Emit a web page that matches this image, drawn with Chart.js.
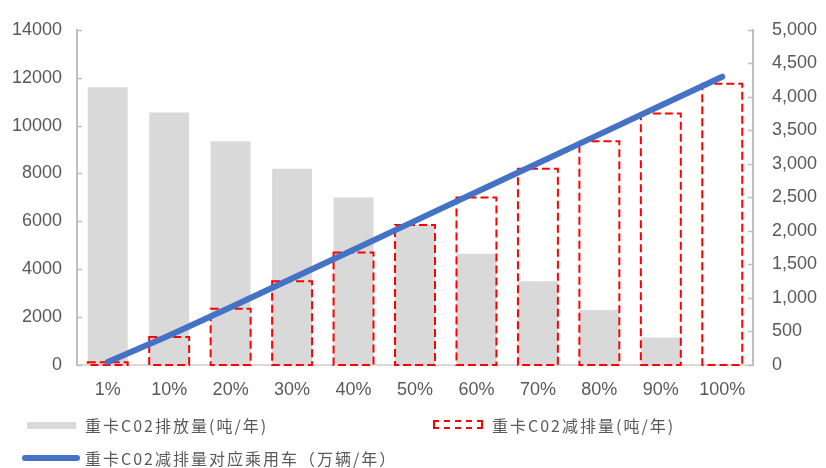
<!DOCTYPE html>
<html>
<head>
<meta charset="utf-8">
<script src="https://cdn.jsdelivr.net/npm/chart.js@4.4.1/dist/chart.umd.min.js"></script>
<style>
    html, body { margin: 0; padding: 0; background: #fff; }
    #wrap { position: relative; width: 826px; height: 468px; }
    #chart { position: absolute; left: 0; top: 0; }
    .legend-text {
        position: absolute;
        font-family: "Noto Sans CJK SC", sans-serif;
        font-size: 16px;
        color: #595959;
        letter-spacing: 2px;
        line-height: 20px;
        white-space: nowrap;
    }
    .swatch { position: absolute; box-sizing: border-box; }
</style>
</head>
<body>
<div id="wrap">
    <canvas id="chart" width="826" height="468"></canvas>

    <div class="swatch" style="left:27px; top:422px; width:49px; height:7px; background:#d9d9d9;"></div>
    <div class="legend-text" style="left:85px; top:415px;">重卡C02排放量(吨/年)</div>

    <div class="swatch" style="left:433px; top:420px; width:50px; height:9px; border:2px dashed #ff0000;"></div>
    <div class="legend-text" style="left:492px; top:415px;">重卡C02减排量(吨/年)</div>

    <div class="swatch" style="left:22px; top:455px; width:58px; height:6px; border-radius:3px; background:#4472c4;"></div>
    <div class="legend-text" style="left:85px; top:448px;">重卡C02减排量对应乘用车（万辆/年）</div>
</div>

<script>
// Data
const categories = ['1%', '10%', '20%', '30%', '40%', '50%', '60%', '70%', '80%', '90%', '100%'];
const emissions = [11600, 10550, 9350, 8200, 7000, 5850, 4650, 3500, 2300, 1150, 0];   // 吨/年, left axis
const reductions = [120, 1170, 2350, 3500, 4700, 5850, 7000, 8200, 9350, 10500, 11750]; // 吨/年, left axis
const cars = [45, 440, 860, 1290, 1720, 2150, 2580, 3010, 3440, 3870, 4300];           // 万辆/年, right axis
const leftTicks = { min: 0, max: 14000, step: 2000 };
const rightTicks = { min: 0, max: 5000, step: 500 };

const labelColor = '#595959';
const tickFont = { family: '"Liberation Sans", Arial, sans-serif', size: 18 };

// Bars in Chart.js can't be dashed, so stroke them ourselves from the bar elements
const dashedBars = {
    id: 'dashedBars',
    afterDatasetDraw(chart, args) {
        const ds = chart.data.datasets[args.index];
        if (!ds.dashed) return;
        const ctx = chart.ctx;
        ctx.save();
        ctx.strokeStyle = '#ff0000';
        ctx.lineWidth = 2;
        ctx.setLineDash([8, 4]);
        args.meta.data.forEach(bar => {
            const { x, y, base, width } = bar.getProps(['x', 'y', 'base', 'width'], true);
            ctx.strokeRect(x - width / 2, y, width, base - y);
        });
        ctx.restore();
    }
};

// Small tick marks pointing into the plot, like the original
const innerTicks = {
    id: 'innerTicks',
    afterDraw(chart) {
        const ctx = chart.ctx;
        const area = chart.chartArea;
        ctx.save();
        ctx.strokeStyle = '#bfbfbf';
        ctx.lineWidth = 1.5;
        ['y', 'y1'].forEach(id => {
            const scale = chart.scales[id];
            scale.ticks.forEach(t => {
                const py = Math.round(scale.getPixelForValue(t.value)) + 0.5;
                ctx.beginPath();
                if (id === 'y') {
                    ctx.moveTo(area.left, py);
                    ctx.lineTo(area.left + 5, py);
                } else {
                    ctx.moveTo(area.right - 5, py);
                    ctx.lineTo(area.right, py);
                }
                ctx.stroke();
            });
        });
        ctx.restore();
    }
};

const noGrid = { display: false, drawTicks: false, tickLength: 0 };

new Chart(document.getElementById('chart'), {
    type: 'bar',
    data: {
        labels: categories,
        datasets: [
            {
                type: 'line',
                label: '重卡C02减排量对应乘用车（万辆/年）',
                data: cars,
                yAxisID: 'y1',
                borderColor: '#4472c4',
                borderWidth: 6,
                borderCapStyle: 'round',
                pointRadius: 0,
                tension: 0,
                order: 0
            },
            {
                label: '重卡C02减排量(吨/年)',
                data: reductions,
                yAxisID: 'y',
                backgroundColor: 'rgba(0,0,0,0)',
                borderWidth: 0,
                dashed: true,
                grouped: false,
                categoryPercentage: 1,
                barPercentage: 0.65,
                order: 1
            },
            {
                label: '重卡C02排放量(吨/年)',
                data: emissions,
                yAxisID: 'y',
                backgroundColor: '#d9d9d9',
                borderWidth: 0,
                grouped: false,
                categoryPercentage: 1,
                barPercentage: 0.65,
                order: 2
            }
        ]
    },
    options: {
        responsive: false,
        animation: false,
        layout: { padding: { top: 20, bottom: 68, left: 0, right: 0 } },
        plugins: {
            legend: { display: false },
            tooltip: { enabled: false }
        },
        scales: {
            x: {
                grid: noGrid,
                border: { display: true, color: '#d9d9d9', width: 2 },
                ticks: { color: labelColor, font: tickFont, padding: 14, maxRotation: 0 },
                afterFit(scale) { scale.height = 35; }
            },
            y: {
                position: 'left',
                min: leftTicks.min,
                max: leftTicks.max,
                grid: noGrid,
                border: { display: true, color: '#bfbfbf', width: 2 },
                ticks: {
                    stepSize: leftTicks.step,
                    color: labelColor,
                    font: tickFont,
                    padding: 15,
                    callback: v => String(v)
                },
                afterFit(scale) { scale.width = 77; }
            },
            y1: {
                position: 'right',
                min: rightTicks.min,
                max: rightTicks.max,
                grid: noGrid,
                border: { display: true, color: '#bfbfbf', width: 2 },
                ticks: {
                    stepSize: rightTicks.step,
                    color: labelColor,
                    font: tickFont,
                    padding: 19,
                    callback: v => v.toLocaleString('en-US')
                },
                afterFit(scale) { scale.width = 73; }
            }
        }
    },
    plugins: [dashedBars, innerTicks]
});
</script>
</body>
</html>
